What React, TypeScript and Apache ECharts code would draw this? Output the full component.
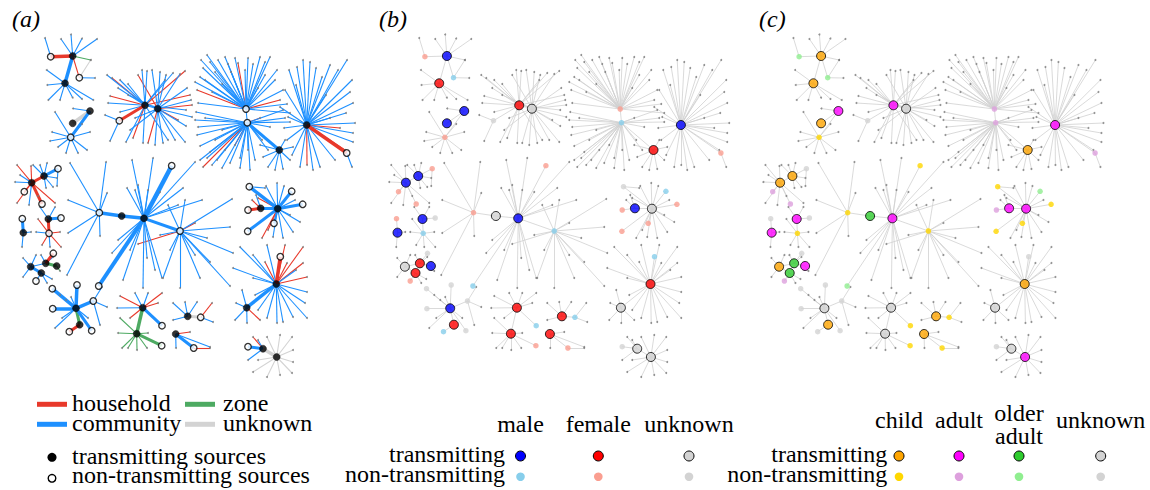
import React, { useEffect, useRef } from "react";
import * as echarts from "echarts";

// ---------- layout of one panel (same network drawn three times) ----------
const PANEL_SHIFT = 374.2;
const PANEL_W = 374.2;
const PANEL_H = 490;

// source nodes: [x, y, transmitting (1/0), sex M/F/U, age C/A/O/U]
const sourceNodes: [number, number, number, string, string][] = [
  [50.7, 56.7, 0, "F", "O"], // 0
  [72.7, 56, 1, "M", "C"],
  [65, 83.3, 1, "F", "C"],
  [79.3, 77.7, 0, "M", "O"],
  [90, 111, 1, "M", "A"],
  [72.7, 123.3, 1, "M", "C"], // 5
  [70.7, 137.3, 0, "F", "C"],
  [145, 105.3, 1, "F", "A"],
  [157.7, 108.7, 1, "U", "U"],
  [119.3, 120.7, 0, "U", "U"],
  [246, 109, 0, "F", "A"], // 10
  [247.3, 122.7, 0, "M", "A"],
  [279.3, 150, 1, "F", "C"],
  [306.7, 125, 1, "M", "A"],
  [346.7, 153, 0, "F", "A"],
  [31.7, 182.7, 1, "M", "C"], // 15
  [44, 176, 1, "M", "C"],
  [58, 168.7, 0, "F", "U"],
  [24.3, 191.7, 0, "F", "A"],
  [42, 204, 0, "F", "A"],
  [22.3, 218.7, 0, "F", "U"], // 20
  [23.3, 232.7, 1, "M", "A"],
  [48.3, 219, 1, "M", "A"],
  [61, 218, 0, "U", "U"],
  [49, 233.3, 0, "M", "C"],
  [30.7, 266.7, 1, "U", "C"], // 25
  [41.3, 273, 1, "F", "O"],
  [36, 281, 0, "F", "A"],
  [45.7, 263.3, 1, "F", "O"],
  [56.7, 266, 1, "M", "A"],
  [53.3, 253.3, 0, "U", "U"], // 30
  [99.3, 212.7, 0, "F", "C"],
  [121.7, 216, 1, "U", "O"],
  [144, 218.3, 1, "M", "A"],
  [180, 231, 0, "M", "C"],
  [171.7, 165.7, 0, "F", "C"], // 35
  [98.7, 286, 0, "M", "O"],
  [249.3, 186.7, 0, "U", "C"],
  [291.7, 191.3, 0, "M", "O"],
  [302.7, 204.3, 0, "F", "C"],
  [260.7, 208.3, 1, "M", "A"], // 40
  [277.7, 208.7, 1, "U", "A"],
  [248, 210, 0, "F", "A"],
  [274, 223.3, 0, "F", "C"],
  [247.7, 231.3, 0, "F", "C"],
  [280.3, 256.7, 0, "M", "U"], // 45
  [276.3, 284, 1, "F", "C"],
  [246.7, 307.7, 1, "U", "U"],
  [76, 308.3, 1, "M", "U"],
  [52.3, 288.7, 0, "U", "U"],
  [77, 285, 0, "U", "U"], // 50
  [52.7, 308.7, 0, "U", "U"],
  [93.3, 301, 0, "U", "U"],
  [79.7, 324.7, 1, "F", "C"],
  [69.3, 331.7, 0, "M", "U"],
  [91.7, 330.7, 0, "U", "U"], // 55
  [142.7, 307.7, 1, "F", "U"],
  [136.7, 333.7, 1, "F", "U"],
  [162, 325.7, 0, "M", "C"],
  [161.7, 345.7, 0, "F", "C"],
  [187.7, 316.3, 1, "F", "C"], // 60
  [200.7, 317.3, 0, "M", "C"],
  [175.7, 334, 1, "F", "C"],
  [193.7, 348, 0, "F", "C"],
  [248, 346.7, 0, "U", "U"],
  [263, 348.7, 1, "U", "U"], // 65
  [276.7, 357, 1, "U", "A"],
];

// links between sources: [from, to, setting H/C/Z/U, weight]
const sourceLinks: [number, number, string, number][] = [
  [0, 1, "H", 3.5], [1, 2, "C", 3.5], [1, 3, "H", 1], [4, 5, "U", 3.5], [4, 6, "C", 3],
  [7, 9, "H", 3], [7, 8, "C", 1], [10, 11, "C", 1], [11, 12, "C", 3], [13, 14, "H", 3.5],
  [15, 16, "H", 3], [15, 19, "H", 3], [15, 18, "H", 1], [16, 17, "C", 3], [20, 21, "C", 3],
  [22, 24, "H", 3], [22, 23, "C", 3], [25, 26, "C", 3], [26, 27, "C", 1], [25, 28, "C", 1],
  [28, 29, "Z", 3], [28, 30, "H", 3], [31, 32, "C", 3.5], [32, 33, "C", 3.5], [33, 35, "C", 4.5],
  [33, 36, "C", 4], [33, 34, "C", 3], [37, 41, "C", 3.5], [42, 40, "H", 3], [40, 41, "C", 3],
  [41, 38, "C", 3], [41, 39, "C", 3], [41, 44, "C", 3], [41, 43, "C", 2], [46, 45, "H", 3.5],
  [46, 47, "C", 3.5], [48, 49, "C", 3.5], [48, 50, "C", 3.5], [48, 51, "C", 3.5], [48, 52, "C", 3.5],
  [48, 53, "Z", 3], [53, 54, "H", 3], [48, 55, "C", 3], [56, 57, "Z", 3.5], [56, 58, "C", 3],
  [57, 59, "Z", 3], [60, 61, "U", 3], [62, 63, "C", 3], [64, 65, "C", 3], [65, 66, "U", 3.5],
];

// links to non-source contacts: [source, x, y, setting]
const leafLinks: [number, number, number, string][] = [
  [0, 45, 38, "C"],
  [1, 61, 39, "C"], [1, 71, 34.5, "C"], [1, 82, 38.5, "C"], [1, 97, 39, "C"], [1, 90.7, 60, "Z"],
  [3, 90.7, 60, "U"], [3, 95, 78, "C"],
  [2, 46.7, 70, "C"], [2, 47.3, 85, "C"], [2, 48.3, 100, "C"], [2, 60, 100, "C"], [2, 72.7, 97.7, "C"], [2, 93.3, 100, "C"], [2, 82, 99, "C"],
  [4, 73, 108.5, "C"],
  [6, 55, 112, "C"], [6, 52, 132, "C"], [6, 50, 141, "C"], [6, 58, 147, "C"], [6, 66, 153, "C"], [6, 78, 153, "C"], [6, 87, 150, "C"], [6, 90, 132, "C"], [6, 82, 124, "C"],
  [7, 107, 75, "C"], [7, 112, 78, "H"], [7, 120, 80, "C"], [7, 128, 84, "C"], [7, 142, 70, "C"], [7, 147, 71, "C"], [7, 118, 88, "C"], [7, 110, 96, "H"], [7, 108, 103, "C"], [7, 185, 71, "H"],
  [7, 173, 73, "C"], [7, 126, 142, "C"], [7, 133, 138, "H"], [7, 143, 143, "C"], [7, 190, 95, "H"], [7, 120, 112, "C"], [7, 168, 140, "C"], [7, 165, 80, "C"], [7, 186, 110, "C"],
  [8, 152, 70, "C"], [8, 160, 72, "C"], [8, 166, 75, "C"], [8, 180, 74, "C"], [8, 187, 88, "C"], [8, 191, 100, "C"], [8, 192, 117, "C"], [8, 186, 126, "C"], [8, 185, 142, "C"], [8, 175, 140, "C"],
  [8, 155, 145, "C"], [8, 148, 143, "H"], [8, 163, 143, "C"], [8, 130, 130, "C"], [8, 138, 75, "H"], [8, 178, 120, "H"], [8, 128, 95, "C"], [8, 135, 118, "C"], [8, 192, 105, "H"],
  [9, 105, 115, "C"], [9, 110, 141, "C"],
  [10, 201, 60, "C"], [10, 210, 62, "C"], [10, 218, 60, "C"], [10, 228, 64, "C"], [10, 235, 58, "C"], [10, 245, 70, "C"], [10, 253, 64, "C"], [10, 260, 57, "C"], [10, 270, 57, "C"], [10, 277, 70, "C"],
  [10, 283, 90, "C"], [10, 287, 104, "C"], [10, 200, 77, "C"], [10, 197, 90, "H"], [10, 205, 80, "C"], [10, 198, 103, "C"], [10, 212, 92, "C"], [10, 222, 84, "C"], [10, 238, 63, "H"], [10, 265, 75, "C"],
  [10, 280, 100, "H"], [10, 290, 113, "C"], [10, 203, 68, "C"], [10, 231, 72, "C"], [10, 258, 88, "C"], [10, 215, 72, "C"],
  [10, 207, 55, "C"], [10, 225, 57, "C"], [10, 248, 58, "C"], [10, 265, 62, "C"], [10, 275, 80, "C"], [10, 195, 82, "C"],
  [11, 198, 127, "C"], [11, 200, 146, "C"], [11, 210, 152, "C"], [11, 203, 167, "H"], [11, 217, 160, "C"], [11, 230, 163, "C"], [11, 240, 168, "C"], [11, 248, 150, "C"], [11, 255, 160, "C"], [11, 262, 140, "C"],
  [11, 270, 127, "C"], [11, 283, 110, "C"], [11, 215, 140, "C"], [11, 225, 150, "C"], [11, 205, 118, "C"], [11, 196, 112, "C"], [11, 235, 145, "H"], [11, 260, 118, "H"], [11, 290, 122, "C"], [11, 207, 158, "C"],
  [11, 240, 158, "C"], [11, 197, 135, "C"], [11, 222, 130, "C"],
  [11, 195, 120, "C"], [11, 212, 165, "C"], [11, 222, 168, "C"], [11, 250, 170, "C"], [11, 268, 150, "C"], [11, 285, 118, "C"], [11, 200, 160, "C"],
  [12, 260, 145, "C"], [12, 263, 157, "C"], [12, 268, 167, "C"], [12, 275, 170, "C"], [12, 283, 169, "C"], [12, 290, 160, "C"], [12, 293, 147, "C"], [12, 285, 140, "C"],
  [13, 285, 90, "C"], [13, 280, 107, "C"], [13, 289, 70, "C"], [13, 297, 67, "C"], [13, 303, 60, "C"], [13, 310, 62, "C"], [13, 316, 68, "C"], [13, 322, 77, "C"], [13, 330, 65, "C"], [13, 338, 70, "C"],
  [13, 347, 60, "C"], [13, 352, 80, "C"], [13, 350, 92, "C"], [13, 353, 103, "C"], [13, 346, 113, "C"], [13, 355, 123, "C"], [13, 353, 133, "C"], [13, 353, 142, "C"], [13, 345, 150, "H"], [13, 335, 160, "C"],
  [13, 320, 167, "C"], [13, 313, 170, "C"], [13, 307, 165, "H"], [13, 300, 167, "C"], [13, 292, 155, "C"], [13, 287, 140, "C"], [13, 284, 128, "C"], [13, 288, 117, "C"], [13, 330, 118, "C"], [13, 340, 128, "H"],
  [13, 326, 95, "C"], [13, 296, 85, "C"],
  [14, 352, 167, "C"],
  [15, 17, 165, "H"], [15, 31, 166, "H"], [15, 15, 182, "C"], [15, 17, 203, "H"], [15, 29, 205, "C"], [15, 55, 203, "H"], [15, 38, 196, "C"], [15, 20, 175, "C"],
  [16, 33, 165, "C"], [16, 47, 163, "C"], [16, 53, 187, "C"], [16, 57, 178, "C"], [16, 46, 188, "C"], [16, 40, 165, "C"],
  [17, 57, 186, "C"],
  [21, 22, 247, "C"], [21, 31, 232, "C"],
  [22, 40, 207, "C"], [22, 55, 207, "C"],
  [24, 38, 219, "H"], [24, 36, 232, "C"], [24, 42, 245, "H"], [24, 50, 247, "C"], [24, 61, 247, "H"], [24, 60, 232, "H"],
  [25, 23, 258, "C"], [25, 23, 277, "C"], [25, 36, 255, "C"],
  [26, 52, 279, "C"], [26, 47, 283, "C"],
  [28, 41, 255, "C"], [28, 53, 257, "C"],
  [29, 60, 271, "Z"],
  [31, 70, 163, "C"], [31, 106, 162, "C"], [31, 107, 193, "C"], [31, 68, 200, "C"], [31, 68, 233, "C"], [31, 100, 236, "C"], [31, 67, 275, "C"],
  [33, 127, 188, "C"], [33, 132, 160, "C"], [33, 138, 185, "C"], [33, 153, 158, "C"], [33, 148, 190, "C"], [33, 160, 192, "C"], [33, 183, 188, "C"], [33, 195, 162, "C"], [33, 202, 200, "C"], [33, 178, 205, "C"],
  [33, 112, 253, "C"], [33, 123, 280, "C"], [33, 130, 250, "C"], [33, 143, 288, "C"], [33, 147, 258, "C"], [33, 162, 278, "C"], [33, 155, 270, "C"], [33, 118, 240, "C"], [33, 135, 190, "C"],
  [34, 232, 199, "C"], [34, 230, 227, "C"], [34, 233, 253, "C"], [34, 230, 286, "C"], [34, 200, 278, "C"], [34, 180, 288, "C"], [34, 163, 278, "C"], [34, 207, 238, "C"], [34, 138, 244, "H"], [34, 195, 223, "H"],
  [34, 195, 255, "C"], [34, 210, 262, "C"], [34, 168, 205, "C"], [34, 185, 200, "C"], [34, 170, 250, "C"], [34, 160, 235, "C"],
  [37, 265, 188, "C"],
  [40, 252, 200, "H"], [40, 256, 195, "C"],
  [41, 266, 186, "C"], [41, 277, 183, "C"], [41, 284, 186, "C"], [41, 300, 222, "C"], [41, 293, 232, "C"], [41, 283, 238, "C"], [41, 273, 237, "C"], [41, 262, 238, "H"], [41, 258, 198, "H"], [41, 290, 215, "C"],
  [41, 268, 230, "H"], [41, 295, 200, "C"],
  [46, 240, 247, "C"], [46, 253, 255, "C"], [46, 267, 245, "C"], [46, 285, 245, "H"], [46, 303, 247, "H"], [46, 303, 263, "H"], [46, 307, 277, "H"], [46, 307, 292, "C"], [46, 305, 303, "C"], [46, 307, 318, "C"],
  [46, 293, 317, "C"], [46, 283, 322, "C"], [46, 277, 323, "C"], [46, 267, 318, "C"], [46, 258, 310, "C"], [46, 233, 268, "C"], [46, 253, 278, "C"], [46, 265, 262, "H"], [46, 287, 263, "H"], [46, 296, 270, "C"],
  [46, 255, 295, "C"],
  [47, 242, 290, "C"], [47, 235, 320, "C"], [47, 247, 323, "C"], [47, 260, 320, "H"], [47, 236, 303, "C"],
  [48, 55, 328, "C"], [48, 62, 318, "C"], [48, 71, 297, "C"], [48, 88, 318, "C"], [48, 60, 295, "C"], [48, 66, 300, "Z"],
  [52, 102, 287, "C"], [52, 107, 307, "C"], [52, 100, 325, "C"],
  [56, 120, 296, "H"], [56, 135, 293, "C"], [56, 148, 293, "C"], [56, 162, 293, "H"], [56, 158, 303, "H"], [56, 117, 308, "C"], [56, 130, 318, "H"],
  [57, 120, 318, "Z"], [57, 118, 333, "Z"], [57, 122, 348, "Z"], [57, 128, 348, "Z"], [57, 137, 350, "Z"], [57, 147, 348, "Z"], [57, 148, 333, "Z"],
  [60, 173, 303, "C"], [60, 185, 302, "C"], [60, 197, 302, "C"], [60, 173, 320, "C"],
  [61, 212, 303, "H"], [61, 213, 322, "C"],
  [62, 190, 332, "H"], [62, 210, 347, "C"], [62, 176, 348, "C"],
  [63, 210, 348, "H"],
  [65, 253, 337, "H"], [65, 248, 360, "C"], [65, 258, 340, "C"],
  [66, 267, 337, "U"], [66, 280, 335, "U"], [66, 292, 337, "U"], [66, 293, 350, "U"], [66, 293, 362, "U"], [66, 292, 373, "U"], [66, 280, 375, "U"], [66, 267, 377, "U"], [66, 253, 372, "U"], [66, 258, 360, "U"],
];

const panelLabels = ["(a)", "(b)", "(c)"];
const settingCodes = ["H", "C", "Z", "U"];
const settingNames = ["household", "community", "zone", "unknown"];
const sexCodes = ["M", "F", "U"];
const sexNames = ["male", "female", "unknown"];
const ageCodes = ["C", "A", "O", "U"];
const ageNames = [["child"], ["adult"], ["older", "adult"], ["unknown"]];
const statusNames = ["transmitting", "non-transmitting"];
const sourceStatusNames = ["transmitting sources", "non-transmitting sources"];

const SETTING_COLOR: Record<string, string> = { H: "#e8392b", C: "#1e90ff", Z: "#4daa62", U: "#d3d3d3" };
const SEX_T: Record<string, string> = { M: "#0000ff", F: "#ff0000", U: "#d3d3d3" };
const SEX_NT: Record<string, string> = { M: "#87ceeb", F: "#fa9e90", U: "#d3d3d3" };
const AGE_T: Record<string, string> = { C: "#ffa500", A: "#ff00ff", O: "#2ecc2e", U: "#d3d3d3" };
const AGE_NT: Record<string, string> = { C: "#ffd700", A: "#dda0dd", O: "#90ee90", U: "#d3d3d3" };

const FONT_FAMILY = "Liberation Serif";
const FONT_SIZE = 24;

function buildOption() {
  const grid = [0, 1, 2].map((i) => ({ left: i * PANEL_SHIFT, top: 0, width: PANEL_W, height: PANEL_H }));
  const xAxis = [0, 1, 2].map((i) => ({ type: "value", gridIndex: i, min: 0, max: PANEL_W, show: false }));
  const yAxis = [0, 1, 2].map((i) => ({ type: "value", gridIndex: i, min: 0, max: PANEL_H, inverse: true, show: false }));

  const pos = (i: number) => [sourceNodes[i][0], sourceNodes[i][1]];
  const leafSeg = (l: [number, number, number, string]) => ({ coords: [pos(l[0]), [l[1], l[2]]] });
  const srcSeg = (s: [number, number, string, number]) => ({ coords: [pos(s[0]), pos(s[1])] });

  const series: any[] = [];
  for (let p = 0; p < 3; p++) {
    const ax = { xAxisIndex: p, yAxisIndex: p };
    if (p === 0) {
      settingCodes.forEach((t) => {
        series.push({
          type: "lines", coordinateSystem: "cartesian2d", ...ax, silent: true,
          lineStyle: { color: SETTING_COLOR[t], width: 1.1, opacity: 1 },
          data: leafLinks.filter((l) => l[3] === t).map(leafSeg),
        });
      });
      series.push({
        type: "lines", coordinateSystem: "cartesian2d", ...ax, silent: true,
        lineStyle: { opacity: 1 },
        data: sourceLinks.map((s) => ({
          ...srcSeg(s),
          lineStyle: { color: SETTING_COLOR[s[2]], width: Math.max(1.1, s[3]), opacity: 1 },
        })),
      });
    } else {
      series.push({
        type: "lines", coordinateSystem: "cartesian2d", ...ax, silent: true,
        lineStyle: { color: "#d0d0d0", width: 0.8, opacity: 1 },
        data: [...leafLinks.map(leafSeg), ...sourceLinks.map(srcSeg)],
      });
    }
    series.push({
      type: "scatter", ...ax, silent: true, symbolSize: 2,
      itemStyle: { color: "#7a7a7a" },
      data: leafLinks.map((l) => [l[1], l[2]]),
    });

    const trans = sourceNodes.filter((n) => n[2] === 1);
    const non = sourceNodes.filter((n) => n[2] === 0);
    if (p === 0) {
      series.push({
        type: "scatter", ...ax, silent: true, symbolSize: 6.5,
        itemStyle: { color: "#fff", borderColor: "#000", borderWidth: 1.3 },
        data: non.map((n) => [n[0], n[1]]),
      });
      series.push({
        type: "scatter", ...ax, silent: true, symbolSize: 7,
        itemStyle: { color: "#000", borderColor: "#000", borderWidth: 0.5 },
        data: trans.map((n) => [n[0], n[1]]),
      });
    } else {
      const colT = p === 1 ? SEX_T : AGE_T;
      const colN = p === 1 ? SEX_NT : AGE_NT;
      const key = p === 1 ? 3 : 4;
      series.push({
        type: "scatter", ...ax, silent: true, symbolSize: 5.5,
        data: non.map((n) => ({ value: [n[0], n[1]], itemStyle: { color: colN[n[key] as string], borderWidth: 0 } })),
      });
      series.push({
        type: "scatter", ...ax, silent: true, symbolSize: 9,
        data: trans.map((n) => ({ value: [n[0], n[1]], itemStyle: { color: colT[n[key] as string], borderColor: "#000", borderWidth: 1 } })),
      });
    }
  }

  // ---------- legends & labels ----------
  const txt = (text: string, x: number, y: number, align = "left", italic = false) => ({
    type: "text", x, y, silent: true,
    style: {
      text, fill: "#000", fontSize: FONT_SIZE, fontFamily: FONT_FAMILY,
      fontStyle: italic ? "italic" : "normal", align, verticalAlign: "middle",
    },
  });
  const graphic: any[] = [];
  const labelX = [12, 379, 759];
  panelLabels.forEach((l, i) => graphic.push(txt(l, labelX[i], 19, "left", true)));

  // panel a: settings
  settingCodes.forEach((c, i) => {
    const col = Math.floor(i / 2);
    const row = i % 2;
    const x0 = col === 0 ? 37 : 185;
    const ly = 404.3 + row * 20;
    graphic.push({ type: "line", silent: true, shape: { x1: x0, y1: ly, x2: x0 + 30, y2: ly }, style: { stroke: SETTING_COLOR[c], lineWidth: 5 } });
    graphic.push(txt(settingNames[i], col === 0 ? 72 : 223, 402.5 + row * 20));
  });
  graphic.push({ type: "circle", silent: true, shape: { cx: 52, cy: 457.3, r: 4.5 }, style: { fill: "#000" } });
  graphic.push({ type: "circle", silent: true, shape: { cx: 52, cy: 478.3, r: 3.8 }, style: { fill: "#fff", stroke: "#000", lineWidth: 1.4 } });
  graphic.push(txt(sourceStatusNames[0], 72, 455.5));
  graphic.push(txt(sourceStatusNames[1], 72, 474.5));

  // panel b: sex
  const sexX = [520.5, 598.3, 689];
  sexCodes.forEach((c, i) => {
    graphic.push(txt(sexNames[i], sexX[i], 424, "center"));
    graphic.push({ type: "circle", silent: true, shape: { cx: sexX[i], cy: 456, r: 5 }, style: { fill: SEX_T[c], stroke: "#000", lineWidth: 1 } });
    graphic.push({ type: "circle", silent: true, shape: { cx: sexX[i], cy: 476.7, r: 4.3 }, style: { fill: SEX_NT[c] } });
  });
  graphic.push(txt(statusNames[0], 505, 454, "right"));
  graphic.push(txt(statusNames[1], 505, 474, "right"));

  // panel c: age
  const ageX = [899, 959, 1019, 1100.7];
  ageCodes.forEach((c, i) => {
    const lines = ageNames[i];
    if (lines.length === 1) graphic.push(txt(lines[0], ageX[i], 420, "center"));
    else {
      graphic.push(txt(lines[0], ageX[i], 413, "center"));
      graphic.push(txt(lines[1], ageX[i], 436, "center"));
    }
    graphic.push({ type: "circle", silent: true, shape: { cx: ageX[i], cy: 456, r: 5 }, style: { fill: AGE_T[c], stroke: "#000", lineWidth: 1 } });
    graphic.push({ type: "circle", silent: true, shape: { cx: ageX[i], cy: 476.7, r: 4.3 }, style: { fill: AGE_NT[c] } });
  });
  graphic.push(txt(statusNames[0], 887.3, 454, "right"));
  graphic.push(txt(statusNames[1], 887.3, 474, "right"));

  return {
    animation: false,
    backgroundColor: "#fff",
    grid, xAxis, yAxis, series, graphic,
  };
}

export default function App() {
  const ref = useRef<HTMLDivElement>(null);
  useEffect(() => {
    if (!ref.current) return;
    const chart = echarts.init(ref.current, undefined, { renderer: "svg" });
    chart.setOption(buildOption() as any);
    return () => chart.dispose();
  }, []);
  return (
    <div
      ref={ref}
      style={{ position: "fixed", left: 0, top: 0, width: 1150, height: 490, background: "#fff" }}
    />
  );
}
